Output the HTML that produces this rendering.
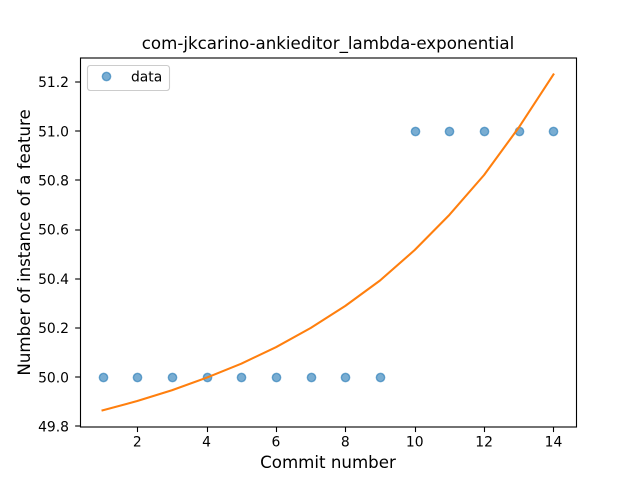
<!DOCTYPE html>
<html>
<head>
<meta charset="utf-8">
<title>com-jkcarino-ankieditor_lambda-exponential</title>
<style>
html,body{margin:0;padding:0;background:#fff;width:640px;height:480px;overflow:hidden}
svg{display:block}
text{font-family:"DejaVu Sans",sans-serif;fill:#000}
</style>
</head>
<body>
<svg id="chart" xmlns="http://www.w3.org/2000/svg" width="640" height="480" viewBox="0 0 640 480">
  <rect x="0" y="0" width="640" height="480" fill="#ffffff"/>
  <text x="328" y="49" font-size="16.67" text-anchor="middle">com-jkcarino-ankieditor_lambda-exponential</text>
  <text x="328" y="468" font-size="16.67" text-anchor="middle">Commit number</text>
  <text x="0" y="0" font-size="16.67" text-anchor="middle" transform="translate(30 242.4) rotate(-90)">Number of instance of a feature</text>
  <g id="ticks"></g>
  <g id="points"></g>
  <polyline id="fit" fill="none" stroke="#ff7f0e" stroke-width="2.08" stroke-linecap="square" stroke-linejoin="round"></polyline>
  <rect x="80.5" y="58" width="496" height="369" fill="none" stroke="#000" stroke-width="1.11"/>
  <g>
    <rect x="87.5" y="65.5" width="82" height="25" rx="2.8" fill="#fff" fill-opacity="0.8" stroke="#cccccc" stroke-width="1.11"/>
    <g>
      <circle cx="106.5" cy="76.5" r="4.17" fill="#1f77b4" fill-opacity="0.6" stroke="#1f77b4" stroke-opacity="0.6" stroke-width="1.39"/>
    </g>
    <text x="131" y="81.3" font-size="13.89">data</text>
  </g>
</svg>
<script>
var commits = [1, 2, 3, 4, 5, 6, 7, 8, 9, 10, 11, 12, 13, 14];
var observed = [50, 50, 50, 50, 50, 50, 50, 50, 50, 51, 51, 51, 51, 51];
var fitted = [49.865, 49.903, 49.947, 49.998, 50.055, 50.122, 50.2, 50.29, 50.393, 50.517, 50.66, 50.822, 51.015, 51.231];
var xTickValues = [2, 4, 6, 8, 10, 12, 14];
var yTickValues = [49.8, 50.0, 50.2, 50.4, 50.6, 50.8, 51.0, 51.2];

var NS = 'http://www.w3.org/2000/svg';
var plotLeft = 80, plotRight = 576, plotTop = 57.6, plotBottom = 427.2;

function extent(values) {
  return [Math.min.apply(null, values), Math.max.apply(null, values)];
}
var xExt = extent(commits);
var yExt = extent(observed.concat(fitted));
var xPad = (xExt[1] - xExt[0]) * 0.05;
var yPad = (yExt[1] - yExt[0]) * 0.05;
var xMin = xExt[0] - xPad, xMax = xExt[1] + xPad;
var yMin = yExt[0] - yPad, yMax = yExt[1] + yPad;

function xScale(v) {
  return plotLeft + (v - xMin) / (xMax - xMin) * (plotRight - plotLeft);
}
function yScale(v) {
  return plotBottom - (v - yMin) / (yMax - yMin) * (plotBottom - plotTop);
}
function snap(p) {
  return Math.round(p) + 0.5;
}
function make(tag, attrs) {
  var el = document.createElementNS(NS, tag);
  for (var k in attrs) el.setAttribute(k, attrs[k]);
  return el;
}

var ticksGroup = document.getElementById('ticks');
xTickValues.forEach(function (v) {
  var x = snap(xScale(v));
  var tick = make('line', {x1: x, x2: x, y1: plotBottom, y2: plotBottom + 4.86, stroke: '#000', 'stroke-width': 1.11});
  
  
  ticksGroup.appendChild(tick);
  var label = make('text', {x: xScale(v), y: plotBottom + 19.2, 'font-size': 13.89, 'text-anchor': 'middle'});
  
  
  label.textContent = String(v);
  ticksGroup.appendChild(label);
});
yTickValues.forEach(function (v) {
  var y = yScale(v);
  var tick = make('line', {x1: plotLeft - 4.86, x2: plotLeft, y1: snap(y) - 0.5, y2: snap(y) - 0.5, stroke: '#000', 'stroke-width': 1.11});
  
  
  ticksGroup.appendChild(tick);
  var label = make('text', {x: plotLeft - 11, y: y + 5.1, 'font-size': 13.89, 'text-anchor': 'end'});
  
  
  label.textContent = v.toFixed(1);
  ticksGroup.appendChild(label);
});

var pointsGroup = document.getElementById('points');
commits.forEach(function (c, i) {
  var dot = make('circle', {
    cx: snap(xScale(c)), cy: snap(yScale(observed[i])), r: 4.17,
    fill: '#1f77b4', 'fill-opacity': 0.6,
    stroke: '#1f77b4', 'stroke-opacity': 0.6, 'stroke-width': 1.39
  });
  
  
  pointsGroup.appendChild(dot);
});

document.getElementById('fit').setAttribute('points', commits.map(function (c, i) {
  return xScale(c) + ',' + yScale(fitted[i]);
}).join(' '));
</script>
</body>
</html>
